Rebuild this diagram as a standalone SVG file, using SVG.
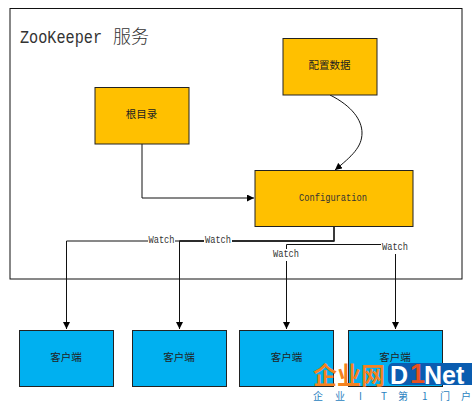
<svg xmlns="http://www.w3.org/2000/svg" width="472" height="402" viewBox="0 0 472 402">
<style>
.n{stroke:#222;stroke-width:1}
.o{fill:#ffc000}
.b{fill:#00b0f0}
text{font-family:"Liberation Mono","Noto Sans CJK SC",monospace;fill:#333}
.l{font-family:"Noto Sans CJK SC",sans-serif;font-size:10.5px;text-anchor:middle;fill:#222}
.w{font-size:10.500px}
.c{fill:none;stroke:#111;stroke-width:1}
.m{font-family:"Liberation Sans","Noto Sans CJK SC",sans-serif;font-weight:bold}
</style>
<defs><marker id="a" markerWidth="7" markerHeight="7" refX="7" refY="3.5" orient="auto" markerUnits="userSpaceOnUse"><path d="M0 0L7 3.5L0 7Z" fill="#000"/></marker></defs>
<rect width="472" height="402" fill="#fff"/>
<g id="frame"><rect x="10" y="8.500" width="452" height="270.500" fill="#fff" stroke="#111"/>
<text x="20" y="43" font-size="18" textLength="82" lengthAdjust="spacingAndGlyphs">ZooKeeper</text>
<text x="113" y="43" font-size="18" style="font-family:'Noto Sans CJK SC',sans-serif;font-weight:300">服务</text></g>
<g id="connectors">
<path class="c" d="M142 144V198H254" marker-end="url(#a)"/>
<path class="c" d="M330 95C352 106 362 120 362 133C362 147 352 156 335 170" marker-end="url(#a)"/>
<path class="c" d="M334 226V241H66.500V329" marker-end="url(#a)"/>
<path class="c" d="M334 241H179.500V329" marker-end="url(#a)"/>
<path class="c" d="M334 244.500H286.500V329" marker-end="url(#a)"/>
<path class="c" d="M334 244.500H395.500V329" marker-end="url(#a)"/>
<path d="M334 226V241H179.500" fill="none" stroke="#222" stroke-width="1.500"/>
<rect x="148" y="235" width="27" height="11" fill="#fff"/><text class="w" x="148.500" y="243" textLength="26" lengthAdjust="spacingAndGlyphs">Watch</text>
<rect x="204" y="235" width="28" height="11" fill="#fff"/><text class="w" x="205" y="243" textLength="26" lengthAdjust="spacingAndGlyphs">Watch</text>
<rect x="272" y="249" width="28" height="12" fill="#fff"/><text class="w" x="273" y="257" textLength="26" lengthAdjust="spacingAndGlyphs">Watch</text>
<rect x="381" y="242" width="28" height="12" fill="#fff"/><text class="w" x="382" y="250" textLength="26" lengthAdjust="spacingAndGlyphs">Watch</text>
</g>
<g id="node-config-data"><rect class="n o" x="283" y="38.500" width="94" height="56.500"/><text class="l" x="329.500" y="69">配置数据</text></g>
<g id="node-root"><rect class="n o" x="95" y="87.500" width="94" height="56.500"/><text class="l" x="141.500" y="118">根目录</text></g>
<g id="node-configuration"><rect class="n o" x="255" y="170.500" width="158" height="56"/><text class="w" x="299" y="201" textLength="68" lengthAdjust="spacingAndGlyphs">Configuration</text></g>
<g id="node-client-1"><rect class="n b" x="19.500" y="330.500" width="94" height="56"/><text class="l" x="66" y="361">客户端</text></g>
<g id="node-client-2"><rect class="n b" x="132.500" y="330.500" width="94" height="56"/><text class="l" x="179" y="361">客户端</text></g>
<g id="node-client-3"><rect class="n b" x="239.500" y="330.500" width="94" height="56"/><text class="l" x="286.500" y="361">客户端</text></g>
<g id="node-client-4"><rect class="n b" x="348.500" y="330.500" width="94" height="56"/><text class="l" x="395" y="361">客户端</text></g>
<g id="watermark">
<rect x="388" y="363" width="90" height="22" rx="5" fill="#0a5cb0"/>
<text class="m" x="313" y="384" font-size="24" style="fill:#f58220">企业网</text>
<text class="m" x="390" y="384" font-size="25" style="fill:#fff">D</text>
<text class="m" x="410" y="383" font-size="27" style="fill:#e8501e">1</text>
<text class="m" x="424" y="384" font-size="25" style="fill:#fff">Net</text>
<text x="313 335 359 381 398 422 440 461" y="400" font-size="10" style="font-family:'Noto Sans CJK SC',sans-serif;fill:#2a7fc0">企业IT第1门户</text>
</g>
</svg>
